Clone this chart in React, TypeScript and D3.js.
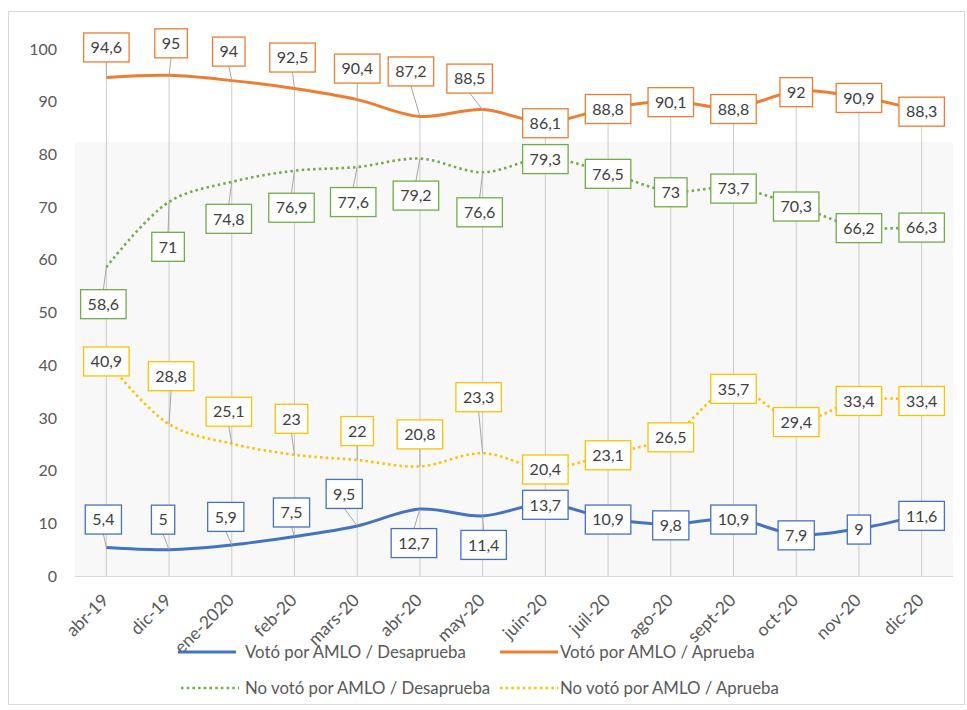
import React, { useRef, useEffect } from 'react'
import * as d3 from 'd3'

// categories and values
const categories = [
	'abr-19', 'dic-19', 'ene-2020', 'feb-20', 'mars-20', 'abr-20', 'may-20',
	'juin-20', 'juil-20', 'ago-20', 'sept-20', 'oct-20', 'nov-20', 'dic-20',
]
const votoDesaprueba = [5.4, 5, 5.9, 7.5, 9.5, 12.7, 11.4, 13.7, 10.9, 9.8, 10.9, 7.9, 9, 11.6]
const votoAprueba = [94.6, 95, 94, 92.5, 90.4, 87.2, 88.5, 86.1, 88.8, 90.1, 88.8, 92, 90.9, 88.3]
const noVotoDesaprueba = [58.6, 71, 74.8, 76.9, 77.6, 79.2, 76.6, 79.3, 76.5, 73, 73.7, 70.3, 66.2, 66.3]
const noVotoAprueba = [40.9, 28.8, 25.1, 23, 22, 20.8, 23.3, 20.4, 23.1, 26.5, 35.7, 29.4, 33.4, 33.4]
const yTicks = [0, 10, 20, 30, 40, 50, 60, 70, 80, 90, 100]

// label placement (pixel offset of the box centre from its point)
const blueLabelOffsets = [[-3, -28], [-6, -30], [-6, -28], [-3, -24], [-13, -32], [-6, 34], [1, 29], [0, 1], [0, 1], [0, 1], [0, 1], [0, 1], [0, 1], [0, 1]]
const orangeLabelOffsets = [[0, -30], [2, -32], [-3, -29], [-2, -31], [0, -31], [-9, -45], [-13, -31], [0, 1], [0, 1], [0, 1], [0, 1], [0, 1], [0, 1], [0, 1]]
const greenLabelOffsets = [[-3, 37], [-1, 45], [-3, 37], [-3, 37], [-4, 35], [-4, 37], [-3, 40], [0, 1], [0, 1], [0, 1], [0, 1], [0, 1], [0, 1], [0, 1]]
const yellowLabelOffsets = [[0, 1], [2, -48], [-3, -32], [-3, -36], [0, -29], [0, -32], [-4, -56], [0, 1], [0, 1], [0, 1], [0, 1], [0, 1], [0, 1], [0, 1]]

const series = [
	{ name: 'Votó por AMLO / Desaprueba', values: votoDesaprueba, color: '#4472C4', dash: null, offsets: blueLabelOffsets },
	{ name: 'Votó por AMLO / Aprueba', values: votoAprueba, color: '#ED7D31', dash: null, offsets: orangeLabelOffsets },
	{ name: 'No votó por AMLO / Desaprueba', values: noVotoDesaprueba, color: '#70AD47', dash: '2.5,3.2', offsets: greenLabelOffsets },
	{ name: 'No votó por AMLO / Aprueba', values: noVotoAprueba, color: '#FFC000', dash: '2.5,3.2', offsets: yellowLabelOffsets },
]

const W = 967,
	H = 710
const FONT = 'Lato, "Noto Sans", sans-serif'

const App = () => {
	const svgRef = useRef<SVGSVGElement | null>(null)

	useEffect(() => {
		const svg = d3.select(svgRef.current)
		svg.selectAll('*').remove()

		const x = d3.scalePoint().domain(categories).range([75, 953]).padding(0.5)
		const y = d3.scaleLinear().domain([0, 100]).range([576, 49])

		// chart border
		svg.append('rect')
			.attr('x', 8.5).attr('y', 11.5).attr('width', 956).attr('height', 693)
			.attr('fill', '#fff').attr('stroke', '#d9d9d9')

		// plot area shading
		svg.append('rect')
			.attr('x', 75).attr('y', 142).attr('width', 878).attr('height', 434)
			.attr('fill', '#f8f8f8')

		// drop lines from the highest point down to the axis
		svg.append('g')
			.selectAll('line')
			.data(categories)
			.enter()
			.append('line')
			.attr('x1', (d) => x(d)!)
			.attr('x2', (d) => x(d)!)
			.attr('y1', (d, i) => y(d3.max(series, (s) => s.values[i])!))
			.attr('y2', y(0))
			.attr('stroke', '#cccccc')
			.attr('stroke-width', 1)

		// category axis line
		svg.append('line')
			.attr('x1', 75).attr('x2', 953).attr('y1', y(0) + 0.5).attr('y2', y(0) + 0.5)
			.attr('stroke', '#d9d9d9')

		// y tick labels
		svg.append('g')
			.selectAll('text')
			.data(yTicks)
			.enter()
			.append('text')
			.attr('x', 57)
			.attr('y', (d) => y(d))
			.attr('dy', '0.35em')
			.attr('text-anchor', 'end')
			.attr('font-family', FONT)
			.attr('font-size', 16)
			.attr('fill', '#595959')
			.text((d) => d)

		// x tick labels
		svg.append('g')
			.selectAll('text')
			.data(categories)
			.enter()
			.append('text')
			.attr('transform', (d) => `translate(${x(d)! - 1},${597}) rotate(-45)`)
			.attr('dy', '0.35em')
			.attr('text-anchor', 'end')
			.attr('font-family', FONT)
			.attr('font-size', 17.5)
			.attr('fill', '#595959')
			.text((d) => d)

		const line = d3
			.line<number>()
			.x((d, i) => x(categories[i])!)
			.y((d) => y(d))
			.curve(d3.curveCatmullRom.alpha(0.5))

		series.forEach((s) => {
			svg.append('path')
				.datum(s.values)
				.attr('d', line)
				.attr('fill', 'none')
				.attr('stroke', s.color)
				.attr('stroke-width', s.dash ? 2.6 : 3)
				.attr('stroke-dasharray', s.dash)
				.attr('stroke-linejoin', 'round')
		})

		// data labels with leader lines
		const fmt = (v: number) => String(v).replace('.', ',')
		series.forEach((s) => {
			const g = svg.append('g')
			s.values.forEach((v, i) => {
				const px = x(categories[i])!
				const py = y(v)
				const [dx, dy] = s.offsets[i]
				const cx = px + dx
				const cy = py + dy
				const bh = 29
				const txt = g.append('text')
					.attr('x', cx)
					.attr('y', cy)
					.attr('dy', '0.36em')
					.attr('text-anchor', 'middle')
					.attr('font-family', FONT)
					.attr('font-size', 16)
					.attr('fill', '#404040')
					.text(fmt(v))
				const tw = (txt.node() as SVGTextElement).getComputedTextLength()
				const bw = tw + 14
				if (Math.abs(dy) > 15) {
					const ey = dy < 0 ? cy + bh / 2 : cy - bh / 2
					g.insert('line', 'text')
						.attr('x1', cx).attr('y1', ey)
						.attr('x2', px).attr('y2', py)
						.attr('stroke', '#a6a6a6')
						.attr('stroke-width', 1)
				}
				g.insert('rect', 'text')
					.attr('x', cx - bw / 2)
					.attr('y', cy - bh / 2)
					.attr('width', bw)
					.attr('height', bh)
					.attr('fill', '#fff')
					.attr('stroke', s.color)
					.attr('stroke-width', 1.3)
				// keep the text on top of its own box
				;(txt.node() as SVGTextElement).parentNode!.appendChild(txt.node() as SVGTextElement)
			})
		})

		// legend
		const legendPos = [
			[178, 652],
			[500, 652],
			[181, 688],
			[500, 688],
		]
		const legend = svg.append('g')
		series.forEach((s, i) => {
			const [lx, ly] = legendPos[i]
			legend.append('line')
				.attr('x1', lx).attr('x2', lx + 58)
				.attr('y1', ly).attr('y2', ly)
				.attr('stroke', s.color)
				.attr('stroke-width', s.dash ? 2.6 : 3)
				.attr('stroke-dasharray', s.dash)
			legend.append('text')
				.attr('x', i % 2 === 0 ? 245 : 560)
				.attr('y', ly)
				.attr('dy', '0.35em')
				.attr('font-family', FONT)
				.attr('font-size', 16.8)
				.attr('fill', '#595959')
				.text(s.name)
		})
	}, [])

	return (
		<div style={{ position: 'absolute', left: 0, top: 0 }}>
			<svg ref={svgRef} width={W} height={H} style={{ display: 'block' }}></svg>
		</div>
	)
}

export default App
